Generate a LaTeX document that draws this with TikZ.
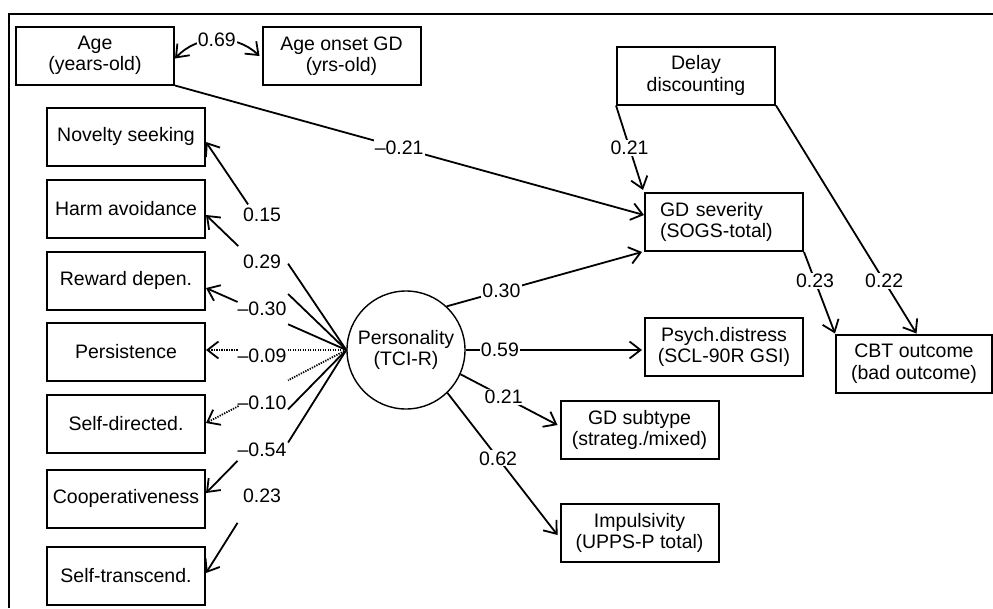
\documentclass[tikz,border=0pt]{standalone}
\usepackage{fontspec}
\setmainfont{Liberation Sans}
\usetikzlibrary{arrows.meta,calc}
\begin{document}
\begin{tikzpicture}[x=1pt,y=-1pt,
  txt/.style={font=\fontsize{19.5}{21.5}\selectfont},
  box/.style={txt, draw, line width=2pt, minimum width=158pt, minimum height=58pt, inner sep=0pt, align=center},
  conn/.style={line width=1.8pt},
  arr/.style={-{Straight Barb[length=11pt,width=17pt]}},
  lbl/.style={txt, inner sep=1.2pt},
  lblw/.style={lbl, fill=white},
  dot/.style={dash pattern=on 1.3pt off 1.2pt}
]
\useasboundingbox (0,0) rectangle (993,608);
% frame
\draw[line width=2.4pt] (993,14) -- (9,14) -- (9,608);

% boxes
\node[box] (Age)   at (95,55.5)   {Age\\(years-old)};
\node[box] (Onset) at (341.5,56)  {Age onset GD\\(yrs-old)};
\node[box] (Delay) at (696,75.5)  {Delay\\discounting};
\node[box] (NS) at (126,136.5) {Novelty seeking};
\node[box] (HA) at (126,209)   {Harm avoidance};
\node[box] (RD) at (126,280.5) {Reward depen.};
\node[box] (PE) at (126,352)   {Persistence};
\node[box] (SD) at (126,424)   {Self-directed.};
\node[box] (CO) at (126,498.5) {Cooperativeness};
\node[box] (ST) at (126,575.5) {Self-transcend.};
\node[box, text width=128pt, align=left] (GDsev) at (724,222) {GD severity\\(SOGS-total)};
\node[box] (Psych) at (724,347)   {Psych.distress\\(SCL-90R GSI)};
\node[box, minimum width=156pt] (CBT) at (914,363.5) {CBT outcome\\(bad outcome)};
\node[box] (GDsub) at (639.5,430) {GD subtype\\(strateg./mixed)};
\node[box] (Imp)   at (639.5,533) {Impulsivity\\(UPPS-P total)};
\node[txt, draw, circle, line width=1.4pt, minimum size=118pt, inner sep=0pt, align=center] (P) at (406,350) {Personality\\(TCI-R)};

% left-side loadings (lines broken around a column of labels)
\foreach \n/\dy/\t/\st in {NS/-5.5/0.70/solid, HA/-6/0.77/solid, RD/-7.5/0.775/solid, PE/2/0.775/dot, SD/1/0.768/dot, CO/5.5/0.775/solid, ST/2.5/0.775/solid}{
  \coordinate (t\n) at ([yshift=\dy pt]\n.east);
  \draw[conn,\st] (P.west) -- ($(P.west)!0.415!(t\n)$);
  \draw[conn,\st,arr] ($(P.west)!\t!(t\n)$) -- (t\n);
}
\node[lbl] (l1) at (262,215) {0.15};
\node[lbl] (l2) at (262,262) {0.29};
\node[lbl] (l3) at (262,309) {–0.30};
\node[lbl] (l4) at (262,356) {–0.09};
\node[lbl] (l5) at (262,403) {–0.10};
\node[lbl] (l6) at (262,450) {–0.54};
\node[lbl] (l7) at (262,496) {0.23};

% correlation
\draw[conn,{Straight Barb[length=11pt,width=17pt]}-{Straight Barb[length=11pt,width=17pt]}]
  ([yshift=-3pt]Age.east) to[bend left=45] node[lblw] (l0) {0.69} ([xshift=-2pt]Onset.west);

% paths on the right
\draw[conn,arr] (Age.south east) -- node[lblw,pos=0.478] (r1) {–0.21} ([yshift=7pt]GDsev.west);
\draw[conn,arr] (Delay.south west) -- node[lblw,pos=0.5] (r2) {0.21} ([xshift=-1pt,yshift=2pt]GDsev.north west);
\draw[conn,arr] (Delay.south east) -- node[lblw,pos=0.77] (r3) {0.22} ([xshift=2.5pt]CBT.north);
\draw[conn,arr] (GDsev.south east) -- node[lblw,pos=0.354] (r4) {0.23} (CBT.north west);
\draw[conn,arr] (P.47) -- node[lblw,pos=0.28] (r5) {0.30} ([xshift=-2pt]GDsev.south west);
\draw[conn,arr] (P.east) -- node[lblw,pos=0.194] (r6) {0.59} ([xshift=-2pt]P.east -| Psych.west);
\draw[conn,arr] (P.-24) -- node[lblw,pos=0.445] (r7) {0.21} ([xshift=-2pt,yshift=5pt]GDsub.west);
\draw[conn,arr] (P.-46) -- node[lblw,pos=0.46] (r8) {0.62} ([xshift=-2pt,yshift=-2pt]Imp.west);
\end{tikzpicture}
\end{document}
